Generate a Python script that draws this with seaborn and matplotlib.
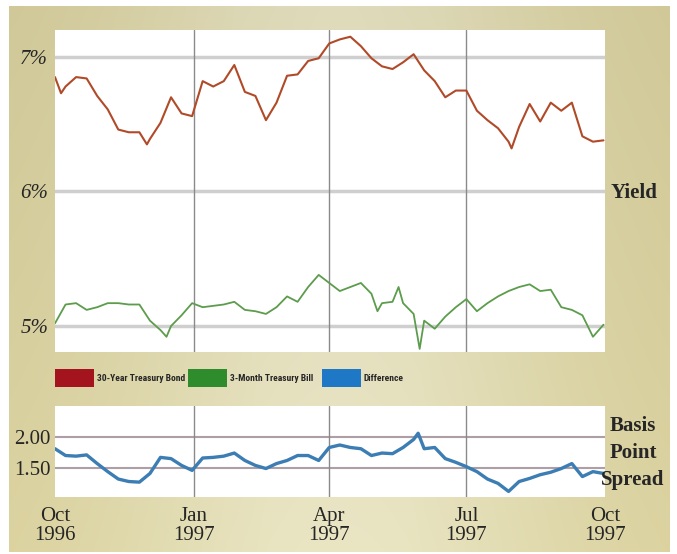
import numpy as np
import pandas as pd
import matplotlib
matplotlib.use("Agg")
import matplotlib.pyplot as plt
from matplotlib.patches import Patch
from matplotlib.font_manager import FontProperties
import seaborn as sns

# weekly readings, Oct 1996 - Sep 1997 (day offsets from 1 Oct 1996)
start = pd.Timestamp("1996-10-01")
week_days = list(range(0, 365, 7))

bond_30y = [6.85, 6.78, 6.85, 6.84, 6.71, 6.61, 6.46, 6.44, 6.44, 6.39,
            6.51, 6.70, 6.58, 6.56, 6.82, 6.78, 6.82, 6.94, 6.74, 6.71,
            6.53, 6.66, 6.86, 6.87, 6.97, 6.99, 7.10, 7.13, 7.15, 7.08,
            6.99, 6.93, 6.91, 6.96, 7.02, 6.90, 6.82, 6.70, 6.75, 6.75,
            6.60, 6.53, 6.47, 6.37, 6.48, 6.65, 6.52, 6.66, 6.60, 6.66,
            6.41, 6.37, 6.38]

bill_3m = [5.02, 5.16, 5.17, 5.12, 5.14, 5.17, 5.17, 5.16, 5.16, 5.04,
           4.97, 5.00, 5.08, 5.17, 5.14, 5.15, 5.16, 5.18, 5.12, 5.11,
           5.09, 5.14, 5.22, 5.18, 5.29, 5.38, 5.32, 5.26, 5.29, 5.32,
           5.24, 5.17, 5.18, 5.17, 5.09, 5.04, 4.98, 5.07, 5.14, 5.20,
           5.11, 5.17, 5.22, 5.26, 5.29, 5.31, 5.26, 5.27, 5.14, 5.12,
           5.08, 4.92, 5.01]

spread = [1.81, 1.70, 1.69, 1.71, 1.57, 1.44, 1.32, 1.28, 1.27, 1.41,
          1.67, 1.65, 1.54, 1.46, 1.66, 1.67, 1.69, 1.74, 1.62, 1.54,
          1.49, 1.57, 1.62, 1.70, 1.70, 1.62, 1.83, 1.87, 1.83, 1.81,
          1.70, 1.74, 1.73, 1.83, 1.96, 1.81, 1.83, 1.65, 1.59, 1.52,
          1.44, 1.32, 1.25, 1.12, 1.28, 1.33, 1.39, 1.43, 1.49, 1.57,
          1.36, 1.44, 1.41]

# short-lived spikes seen between the weekly readings
bond_extra_days = [4, 61, 303]
bond_extra_vals = [6.73, 6.35, 6.32]
bill_extra_days = [74, 214, 228, 242]
bill_extra_vals = [4.92, 5.11, 5.29, 4.83]
spread_extra_days = [241]
spread_extra_vals = [2.06]

tick_dates = pd.to_datetime(["1996-10-01", "1997-01-01", "1997-04-01",
                             "1997-07-01", "1997-10-01"])
tick_labels = ["Oct\n1996", "Jan\n1997", "Apr\n1997", "Jul\n1997", "Oct\n1997"]

yield_ticks = [5, 6, 7]
yield_labels = ["5%", "6%", "7%"]
spread_ticks = [1.5, 2.0]
spread_labels = ["1.50", "2.00"]

legend_names = ["30-Year Treasury Bond", "3-Month Treasury Bill", "Difference"]
legend_colors = ["#a3141f", "#2f8c2c", "#1f78c6"]


def series(vals, extra_days, extra_vals):
    d = pd.DataFrame({"day": week_days + extra_days, "value": vals + extra_vals})
    d = d.sort_values("day")
    d["date"] = start + pd.to_timedelta(d["day"], unit="D")
    return d


bond_df = series(bond_30y, bond_extra_days, bond_extra_vals)
bill_df = series(bill_3m, bill_extra_days, bill_extra_vals)
spread_df = series(spread, spread_extra_days, spread_extra_vals)

sns.set_theme(style="white")
plt.rcParams["font.family"] = ["Liberation Serif", "DejaVu Serif"]

W, H = 677, 554
fig = plt.figure(figsize=(W / 100, H / 100), dpi=100)
fig.patch.set_facecolor("white")

# beige backdrop, lighter in the middle
bg = fig.add_axes([9 / W, 1 - 552 / H, 661 / W, 546 / H])
t = np.linspace(0, 1, 400)
bump = np.exp(-((t - 0.5) / 0.35) ** 2)
left = np.array([213, 204, 152]) / 255
mid = np.array([229, 225, 192]) / 255
row = left[None, :] * (1 - bump[:, None]) + mid[None, :] * bump[:, None]
vert = np.linspace(0.97, 1.02, 100)
img = np.clip(vert[:, None, None] * row[None, :, :], 0, 1)
bg.imshow(img, aspect="auto", extent=[0, 1, 0, 1])
bg.set_axis_off()

x0 = 55 / W
wid = 550 / W
ax1 = fig.add_axes([x0, 1 - 352 / H, wid, 322 / H])
ax2 = fig.add_axes([x0, 1 - 497 / H, wid, 91 / H])

for ax in (ax1, ax2):
    ax.set_facecolor("white")
    for s in ax.spines.values():
        s.set_visible(False)
    ax.set_xlim(tick_dates[0], tick_dates[-1])
    ax.tick_params(length=0)
    for d in tick_dates[1:-1]:
        ax.axvline(d, color="#8a8a8a", lw=1.0, zorder=1)

# top panel: yields
for y in yield_ticks:
    ax1.axhline(y, color="#cfcfcf", lw=2.5, zorder=0.5)
sns.lineplot(data=bond_df, x="date", y="value", ax=ax1, color="#b04a28",
             lw=1.5, zorder=3)
sns.lineplot(data=bill_df, x="date", y="value", ax=ax1, color="#5c9c4c",
             lw=1.3, zorder=3)
ax1.set_ylim(4.807, 7.2)
ax1.set_yticks(yield_ticks)
ax1.set_yticklabels(yield_labels, fontsize=15, style="italic")
ax1.tick_params(axis="y", pad=5)
ax1.set_xticks(tick_dates)
ax1.set_xticklabels([])
ax1.set_xlabel("")
ax1.set_ylabel("")

# bottom panel: spread
for y in spread_ticks:
    ax2.axhline(y, color="#ae9ea6", lw=1.5, zorder=0.5)
sns.lineplot(data=spread_df, x="date", y="value", ax=ax2, color="#3c7db4",
             lw=2.4, zorder=3)
ax2.set_ylim(1.03, 2.5)
ax2.set_yticks(spread_ticks)
ax2.set_yticklabels(spread_labels, fontsize=15)
ax2.tick_params(axis="y", pad=3)
ax2.set_xticks(tick_dates)
ax2.set_xticklabels(tick_labels, fontsize=15, linespacing=1.0)
ax2.tick_params(axis="x", pad=7)
ax2.set_xlabel("")
ax2.set_ylabel("")

# right-hand labels
fig.text(611 / W, 1 - 193 / H, "Yield", fontsize=15, fontweight="bold",
         ha="left", va="center")
fig.text(633 / W, 1 - 453 / H, "Basis\nPoint\nSpread", fontsize=15,
         fontweight="bold", ha="center", va="center", linespacing=1.45,
         zorder=10)

# legend row, one entry each
leg_font = FontProperties(family=["Liberation Sans Narrow", "Roboto Condensed",
                                  "DejaVu Sans"],
                          weight="bold", stretch="condensed", size=6.8)
legend_x = [55, 188, 322]
for name, col, lx in zip(legend_names, legend_colors, legend_x):
    fig.legend(handles=[Patch(facecolor=col, edgecolor="none", label=name)],
               loc="center left", bbox_to_anchor=(lx / W, 1 - 378 / H),
               frameon=False, borderpad=0, borderaxespad=0,
               handlelength=4.1, handleheight=2.7, handletextpad=0.3,
               prop=leg_font)

fig.savefig("out.png", dpi=100)
